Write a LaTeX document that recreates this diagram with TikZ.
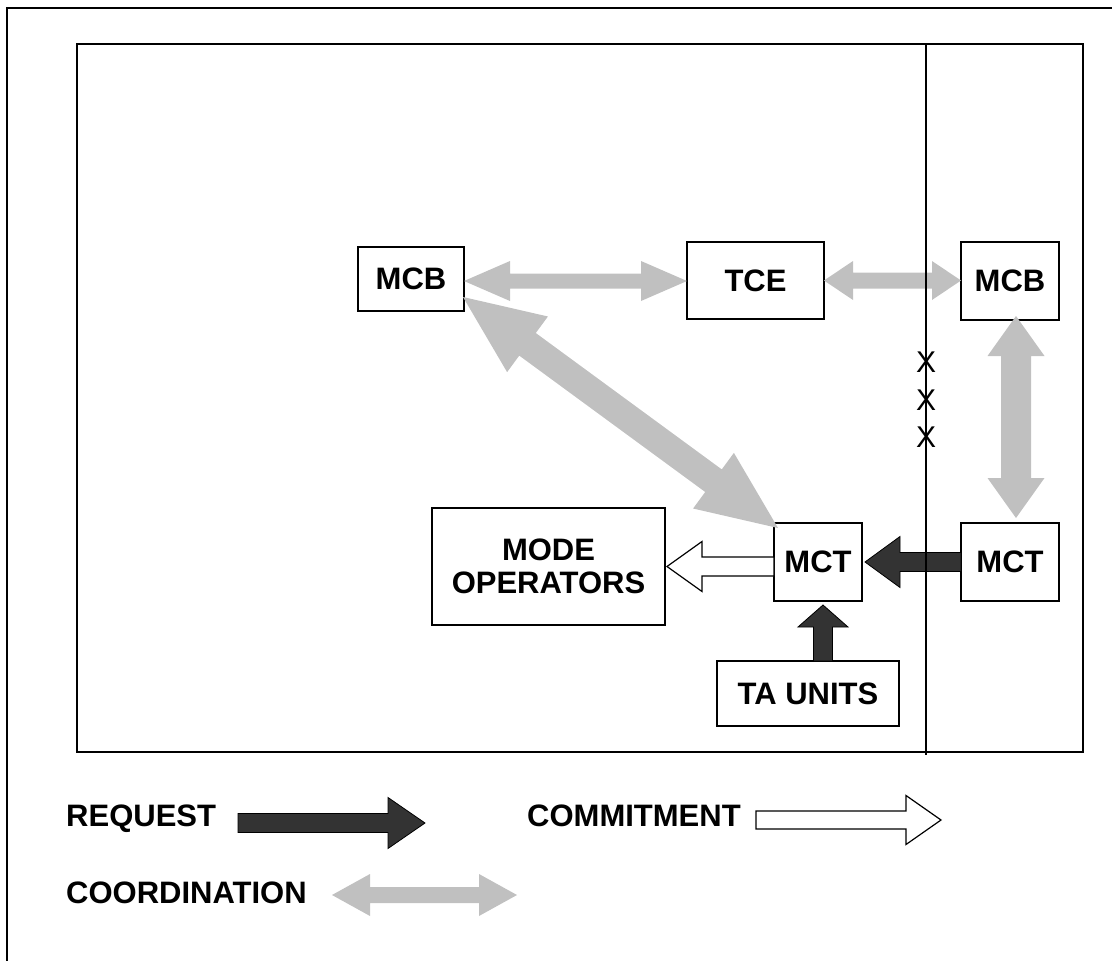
\documentclass[tikz,border=0pt]{standalone}
\usepackage{fontspec}
\setmainfont{Liberation Sans}
\usetikzlibrary{calc}
\definecolor{cgray}{HTML}{C0C0C0}
\definecolor{cdark}{HTML}{333333}
% single fat arrow: start, tip, half shaft width, half head width, head length, style
\newcommand\fatone[6]{%
 \path #1 coordinate (fa-s) #2 coordinate (fa-t);
 \path ($(fa-t)!#5!(fa-s)$) coordinate (fa-b);
 \filldraw[#6] ($(fa-s)!#3!90:(fa-t)$) -- ($(fa-b)!#3!-90:(fa-s)$) -- ($(fa-b)!#4!-90:(fa-s)$) -- (fa-t) -- ($(fa-b)!#4!90:(fa-s)$) -- ($(fa-b)!#3!90:(fa-s)$) -- ($(fa-s)!#3!-90:(fa-t)$) -- cycle;}
% double fat arrow
\newcommand\fattwo[6]{%
 \path #1 coordinate (fa-s) #2 coordinate (fa-t);
 \path ($(fa-t)!#5!(fa-s)$) coordinate (fa-b) ($(fa-s)!#5!(fa-t)$) coordinate (fa-a);
 \filldraw[#6] (fa-s) -- ($(fa-a)!#4!90:(fa-t)$) -- ($(fa-a)!#3!90:(fa-t)$) -- ($(fa-b)!#3!-90:(fa-s)$) -- ($(fa-b)!#4!-90:(fa-s)$) -- (fa-t) -- ($(fa-b)!#4!90:(fa-s)$) -- ($(fa-b)!#3!90:(fa-s)$) -- ($(fa-a)!#3!-90:(fa-t)$) -- ($(fa-a)!#4!-90:(fa-t)$) -- cycle;}
\tikzset{
 box/.style={draw=black, line width=1.7pt, fill=white, inner sep=0pt, outer sep=0pt,
   align=center, font=\fontsize{31}{32.5}\selectfont\bfseries},
 lbl/.style={inner sep=0pt, anchor=base west, font=\fontsize{31}{31}\selectfont\bfseries},
 xmark/.style={inner sep=0pt, font=\fontsize{30}{30}\selectfont},
 frame/.style={draw=black, line width=1.5pt},
 coordarrow/.style={fill=cgray, draw=none},
 reqarrow/.style={fill=cdark, draw=black, line width=0.8pt},
 comarrow/.style={fill=white, draw=black, line width=1.2pt},
}
\begin{document}
\begin{tikzpicture}[x=1pt,y=-1pt]
\useasboundingbox (0,0) rectangle (1112,961);
% outer border (right and bottom outside the picture)
\draw[frame] (7,961) -- (7,8) -- (1112,8);
% inner frame
\draw[frame] (77,44) rectangle (1083,752);

% boxes
\node[box, minimum width=106pt, minimum height=64pt] (mcbL) at (411,279) {MCB};
\node[box, minimum width=137pt, minimum height=77pt] (tce) at (755.5,280.5) {TCE};
\node[box, minimum width=98pt, minimum height=78pt] (mcbR) at (1010,281) {MCB};
\node[box, minimum width=88pt, minimum height=78pt] (mctC) at (818,562) {MCT};
\node[box, minimum width=98pt, minimum height=78pt] (mctR) at (1010,562) {MCT};
\node[box, minimum width=182pt, minimum height=65pt] (taunits) at (808,693.5) {TA UNITS};
\node[box, minimum width=233pt, minimum height=117pt] (modeop) at (548.5,566.5) {MODE\\OPERATORS};

% coordination arrows
\coordinate (c1) at ($(mcbL.east)+(0,2)$);
\fattwo{(c1)}{(tce.west |- c1)}{7.5pt}{20pt}{46pt}{coordarrow}
\fattwo{(tce.east)}{(mcbR.west |- tce.east)}{8pt}{19.5pt}{29pt}{coordarrow}
\fattwo{($(mcbR.south)+(6,-4)$)}{($(mctR.north)+(6,-5)$)}{15pt}{28.5pt}{40pt}{coordarrow}
\fattwo{($(mcbL.south east)+(-1,-14)$)}{($(mctC.north west)+(4,5)$)}{14pt}{34.5pt}{80pt}{coordarrow}

% request arrows
\fatone{(mctR.west)}{($(mctC.east)+(3,0)$)}{9.5pt}{25.5pt}{35pt}{reqarrow}
\fatone{($(taunits.north)+(15,0)$)}{($(mctC.south)+(5,4)$)}{9.5pt}{25pt}{22pt}{reqarrow}

% commitment arrow
\fatone{(mctC.west |- modeop.east)}{($(modeop.east)+(2,0)$)}{9.5pt}{25pt}{35pt}{comarrow}

% divider line
\draw[line width=1.5pt] (926,44) -- (926,755);
\node[xmark] (x1) at (926,362) {X};
\node[xmark] (x2) at (926,400) {X};
\node[xmark] (x3) at (926,437) {X};

% legend
\node[lbl] (lreq) at (66,826) {REQUEST};
\coordinate (rq1) at (238,823);
\coordinate (rq2) at (425,823);
\fatone{(rq1)}{(rq2)}{9.5pt}{25.5pt}{37pt}{reqarrow}

\node[lbl] (lcom) at (527,826) {COMMITMENT};
\coordinate (cm1) at (756,820);
\coordinate (cm2) at (941,820);
\fatone{(cm1)}{(cm2)}{9pt}{24.5pt}{35pt}{comarrow}

\node[lbl] (lcoord) at (66,903) {COORDINATION};
\coordinate (co1) at (332,895);
\coordinate (co2) at (517,895);
\fattwo{(co1)}{(co2)}{8pt}{21pt}{38pt}{coordarrow}
\end{tikzpicture}
\end{document}
